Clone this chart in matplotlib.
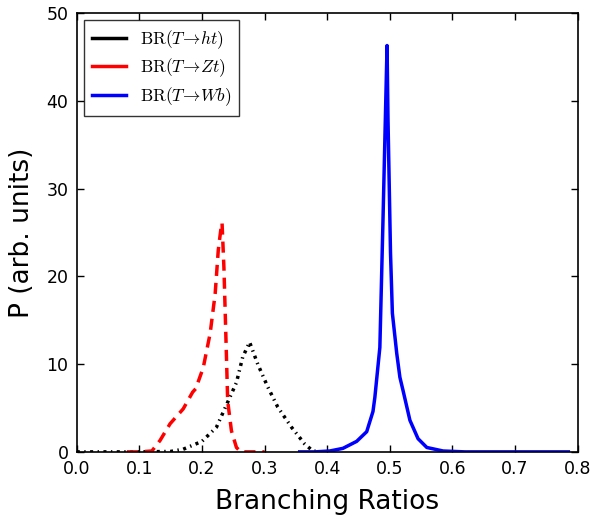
import matplotlib
matplotlib.use("Agg")
import matplotlib.pyplot as plt
from matplotlib.lines import Line2D

# Data
ht_x = [0.0, 0.05, 0.10, 0.15, 0.17, 0.20, 0.223, 0.24, 0.255, 0.265, 0.276, 0.289, 0.305, 0.321, 0.343, 0.364, 0.377, 0.39, 0.40]
ht_y = [0.0, 0.0, 0.0, 0.05, 0.3, 1.2, 2.8, 5.5, 7.9, 10.8, 12.5, 10.0, 7.4, 5.1, 2.8, 0.9, 0.1, 0.0, 0.0]

zt_x = [0.08, 0.10, 0.12, 0.133, 0.149, 0.17, 0.185, 0.19, 0.202, 0.213, 0.221, 0.226, 0.23, 0.232, 0.235, 0.238, 0.241, 0.247, 0.255, 0.262, 0.28, 0.30]
zt_y = [0.0, 0.0, 0.1, 1.3, 3.2, 4.9, 6.8, 7.2, 9.6, 13.5, 18.0, 23.0, 25.3, 26.1, 21.0, 13.5, 5.8, 2.4, 0.5, 0.0, 0.0, 0.0]

wb_x = [0.356, 0.38, 0.404, 0.425, 0.447, 0.463, 0.473, 0.476, 0.484, 0.489, 0.494, 0.4955, 0.497, 0.501, 0.504, 0.511, 0.516, 0.521, 0.532, 0.545, 0.559, 0.585, 0.62, 0.70, 0.785]
wb_y = [0.0, 0.0, 0.1, 0.4, 1.2, 2.3, 4.6, 6.2, 11.9, 26.4, 41.7, 46.3, 37.9, 22.7, 15.8, 11.2, 8.5, 7.0, 3.6, 1.5, 0.5, 0.1, 0.0, 0.0, 0.0]

labels = [r'$\mathrm{BR}(T\!\rightarrow\! ht)$', r'$\mathrm{BR}(T\!\rightarrow\! Zt)$', r'$\mathrm{BR}(T\!\rightarrow\! Wb)$']
colors = ['black', 'red', 'blue']
x_ticks = [0.0, 0.1, 0.2, 0.3, 0.4, 0.5, 0.6, 0.7, 0.8]
y_ticks = [0, 10, 20, 30, 40, 50]

plt.rcParams['mathtext.fontset'] = 'cm'
plt.rcParams['lines.scale_dashes'] = False

fig = plt.figure(figsize=(5.95, 5.23), dpi=100)
ax = fig.add_axes([0.129, 0.136, 0.842, 0.839])

ax.plot(ht_x, ht_y, color='black', lw=2.5, dashes=(2.2, 3.2, 1.0, 3.2), dash_capstyle='butt')
ax.plot(zt_x, zt_y, color='red', lw=2.5, dashes=(8, 5), dash_capstyle='butt')
ax.plot(wb_x, wb_y, color='blue', lw=2.5)

ax.set_xlim(0.0, 0.8)
ax.set_ylim(0, 50)
ax.set_xticks(x_ticks)
ax.set_yticks(y_ticks)
ax.set_xticklabels([f"{v:.1f}" for v in x_ticks])
ax.tick_params(direction='in', top=True, right=True, length=5, width=1, labelsize=12.5, pad=6)
for s in ax.spines.values():
    s.set_linewidth(1.2)

ax.set_xlabel('Branching Ratios', fontsize=19, labelpad=8)
ax.set_ylabel('P (arb. units)', fontsize=19, labelpad=8)

handles = [Line2D([0], [0], color=c, lw=2.5) for c in colors]
leg = ax.legend(handles, labels, loc='upper left', fontsize=12.5, frameon=True,
                fancybox=False, edgecolor='black', handlelength=2.0,
                borderpad=0.45, labelspacing=0.35, borderaxespad=0.4)
leg.get_frame().set_linewidth(1.0)

fig.savefig('out.png', dpi=100)
